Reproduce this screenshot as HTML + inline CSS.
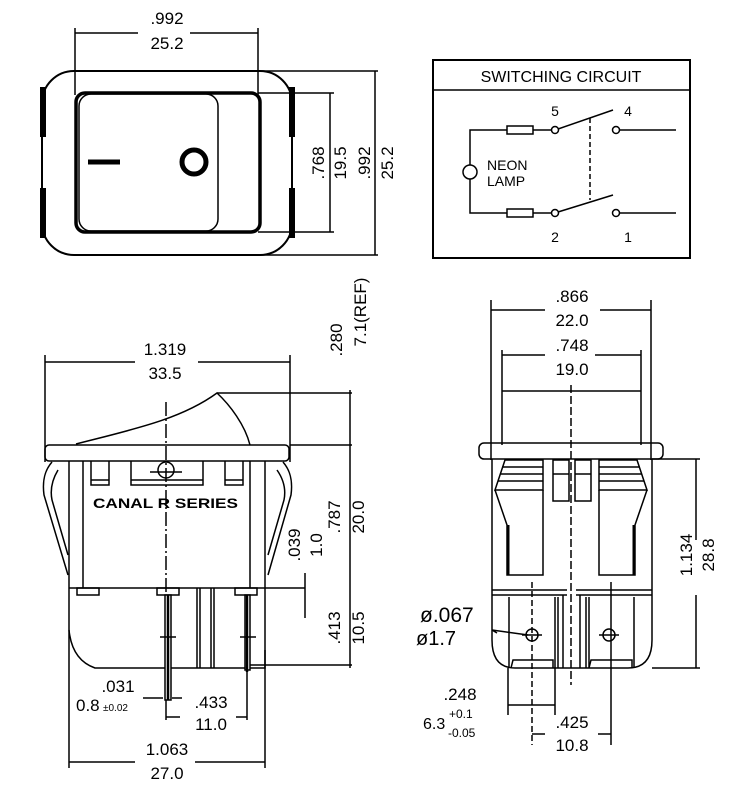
<!DOCTYPE html>
<html><head><meta charset="utf-8"><style>
html,body{margin:0;padding:0;background:#fff;}
svg{display:block;}
text{font-family:"Liberation Sans",sans-serif;fill:#000;}
</style></head><body>
<svg width="742" height="800" viewBox="0 0 742 800" xmlns="http://www.w3.org/2000/svg">
<g stroke="#000" fill="none" stroke-width="1.5">
<line x1="75" y1="28" x2="75" y2="95"/><line x1="258" y1="28" x2="258" y2="95"/>
<line x1="75" y1="33" x2="138" y2="33"/><line x1="190" y1="33" x2="258" y2="33"/>
<rect x="42" y="71" width="250" height="184" rx="32" stroke-width="2"/>
<rect x="40" y="87" width="6" height="50" fill="#000" stroke="none"/>
<rect x="40" y="188" width="6" height="50" fill="#000" stroke="none"/>
<rect x="289" y="87" width="6" height="50" fill="#000" stroke="none"/>
<rect x="289" y="188" width="6" height="50" fill="#000" stroke="none"/>
<rect x="76" y="93" width="184" height="139" rx="9" stroke-width="3.5"/>
<rect x="79" y="94" width="139" height="137" rx="12" stroke-width="1.5"/>
<line x1="88" y1="162" x2="120" y2="162" stroke-width="5"/>
<circle cx="194" cy="162" r="12" stroke-width="5"/>
<line x1="258" y1="93" x2="334" y2="93"/><line x1="258" y1="232" x2="334" y2="232"/>
<line x1="330" y1="93" x2="330" y2="232"/>
<line x1="258" y1="71" x2="378" y2="71"/><line x1="258" y1="255" x2="378" y2="255"/>
<line x1="375" y1="71" x2="375" y2="255"/>

<rect x="433" y="60" width="257" height="198" stroke-width="2"/>
<line x1="433" y1="90" x2="690" y2="90"/>
<polyline points="507,130 470,130 470,213 507,213"/>
<circle cx="470" cy="172" r="7" fill="#fff"/>
<rect x="507" y="126" width="26" height="8"/><rect x="507" y="209" width="26" height="8"/>
<line x1="533" y1="130" x2="551" y2="130"/><line x1="533" y1="213" x2="551" y2="213"/>
<circle cx="555" cy="130" r="3.5"/><circle cx="555" cy="213" r="3.5"/>
<circle cx="616" cy="130" r="3.5"/><circle cx="616" cy="213" r="3.5"/>
<line x1="558" y1="129" x2="613" y2="110"/><line x1="558" y1="212" x2="613" y2="195"/>
<line x1="620" y1="130" x2="676" y2="130"/><line x1="620" y1="213" x2="676" y2="213"/>
<line x1="590" y1="118" x2="590" y2="200" stroke-dasharray="5,3"/>

<line x1="45" y1="355" x2="45" y2="462"/><line x1="290" y1="355" x2="290" y2="462"/>
<line x1="45" y1="362" x2="135" y2="362"/><line x1="198" y1="362" x2="290" y2="362"/>
<path d="M76,444 C130,430 180,420 217,393 C230,405 245,425 250,445"/>
<line x1="217" y1="393" x2="352" y2="393"/>
<line x1="290" y1="445" x2="352" y2="445"/>
<rect x="45" y="445" width="244" height="16" rx="4"/>
<line x1="69" y1="461" x2="69" y2="668"/><line x1="83" y1="461" x2="83" y2="588"/>
<line x1="250" y1="461" x2="250" y2="588"/><line x1="265" y1="461" x2="265" y2="668"/>
<path d="M52,462 C45,470 42,480 44,495 L68,575"/>
<path d="M58,470 C52,480 50,490 52,500 L68,555"/>
<path d="M283,462 C290,470 293,480 291,495 L268,575"/>
<path d="M277,470 C284,480 286,490 284,500 L268,555"/>
<polyline points="91,461 91,485 109,485 109,461"/><line x1="91" y1="480" x2="109" y2="480"/>
<polyline points="131,461 131,485 203,485 203,461"/><line x1="131" y1="480" x2="203" y2="480"/>
<polyline points="225,461 225,485 243,485 243,461"/><line x1="225" y1="480" x2="243" y2="480"/>
<circle cx="166" cy="470" r="8"/><line x1="150" y1="472" x2="182" y2="472"/>
<line x1="166" y1="402" x2="166" y2="668" stroke-dasharray="14,3,2,3"/>
<line x1="69" y1="588" x2="305" y2="588"/>
<path d="M69,630 Q72,660 95,668 L265,668 L265,650"/>
<rect x="77" y="588" width="22" height="7"/><rect x="157" y="588" width="22" height="7"/><rect x="235" y="588" width="22" height="7"/>
<rect x="165" y="595" width="6" height="105" fill="#fff"/><line x1="168" y1="595" x2="168" y2="700" stroke-width="2.5"/>
<rect x="245" y="595" width="5" height="75" fill="#fff"/><line x1="247" y1="595" x2="247" y2="672" stroke-width="2.5"/>
<line x1="160" y1="637" x2="176" y2="637"/><line x1="240" y1="637" x2="256" y2="637"/>
<line x1="197" y1="588" x2="197" y2="668"/><line x1="200" y1="588" x2="200" y2="668"/>
<line x1="211" y1="588" x2="211" y2="668"/><line x1="214" y1="588" x2="214" y2="668"/>
<line x1="250" y1="665" x2="352" y2="665"/>
<line x1="350" y1="390" x2="350" y2="668"/>
<line x1="305" y1="573" x2="305" y2="618"/>
<line x1="143" y1="698" x2="163" y2="698"/><line x1="172" y1="698" x2="182" y2="698"/>
<line x1="166" y1="700" x2="166" y2="720"/>
<line x1="247" y1="672" x2="247" y2="720"/>
<line x1="166" y1="717" x2="180" y2="717"/><line x1="236" y1="717" x2="247" y2="717"/>
<line x1="69" y1="668" x2="69" y2="768"/><line x1="265" y1="668" x2="265" y2="768"/>
<line x1="69" y1="762" x2="135" y2="762"/><line x1="195" y1="762" x2="265" y2="762"/>

<line x1="491" y1="300" x2="491" y2="460"/><line x1="651" y1="300" x2="651" y2="460"/>
<line x1="491" y1="310" x2="545" y2="310"/><line x1="600" y1="310" x2="651" y2="310"/>
<line x1="502" y1="350" x2="502" y2="445"/><line x1="641" y1="350" x2="641" y2="445"/>
<line x1="502" y1="355" x2="545" y2="355"/><line x1="595" y1="355" x2="641" y2="355"/>
<line x1="502" y1="391" x2="641" y2="391"/>
<rect x="479" y="443" width="184" height="16" rx="5"/>
<path d="M492,459 L492,640 Q492,668 515,668 L628,668 Q652,668 652,640 L652,459"/>
<line x1="571" y1="385" x2="571" y2="685" stroke-dasharray="8,3"/>
<path d="M505,460 L495,490 L543,490 L543,460 Z"/>
<line x1="502" y1="467" x2="543" y2="467"/><line x1="500" y1="474" x2="543" y2="474"/><line x1="498" y1="481" x2="543" y2="481"/>
<path d="M495,490 L507,525 L507,575 L543,575 L543,490"/>
<line x1="508" y1="525" x2="508" y2="575" stroke-width="3"/>
<path d="M637,460 L647,490 L599,490 L599,460 Z"/>
<line x1="599" y1="467" x2="640" y2="467"/><line x1="599" y1="474" x2="642" y2="474"/><line x1="599" y1="481" x2="644" y2="481"/>
<path d="M647,490 L635,525 L635,575 L599,575 L599,490"/>
<line x1="634" y1="525" x2="634" y2="575" stroke-width="3"/>
<rect x="553" y="460" width="16" height="41"/><line x1="553" y1="474" x2="569" y2="474"/>
<rect x="575" y="460" width="16" height="41"/><line x1="575" y1="474" x2="591" y2="474"/>
<line x1="492" y1="590" x2="567" y2="590"/><line x1="576" y1="590" x2="652" y2="590"/>
<line x1="492" y1="595" x2="567" y2="595"/><line x1="576" y1="595" x2="652" y2="595"/>
<path d="M509,597 L509,668 M555,597 L555,668 M558,597 L558,668"/>
<path d="M586,597 L586,668 M589,597 L589,668 M634,597 L634,668"/>
<path d="M511,668 L513,660 L553,660 L553,668"/><path d="M589,668 L591,660 L632,660 L632,668"/>
<line x1="563" y1="595" x2="563" y2="668"/><line x1="580" y1="595" x2="580" y2="668"/>
<circle cx="532" cy="635" r="6"/><line x1="522" y1="635" x2="542" y2="635"/>
<circle cx="609" cy="635" r="6"/><line x1="599" y1="635" x2="619" y2="635"/>
<line x1="532" y1="582" x2="532" y2="745" stroke-dasharray="6,3"/>
<line x1="611" y1="582" x2="611" y2="745"/>
<line x1="508" y1="668" x2="508" y2="715"/><line x1="555" y1="668" x2="555" y2="715"/>
<line x1="508" y1="705" x2="555" y2="705"/>
<line x1="532" y1="734" x2="545" y2="734"/><line x1="598" y1="734" x2="611" y2="734"/>
<polyline points="497,633 492,630 528,635"/>
<line x1="652" y1="459" x2="700" y2="459"/><line x1="652" y1="668" x2="700" y2="668"/>
<line x1="696" y1="459" x2="696" y2="540"/><line x1="696" y1="595" x2="696" y2="668"/>
</g>

<g font-size="17" text-anchor="middle">
<text x="167" y="24">.992</text><text x="167" y="49">25.2</text>
<text transform="translate(324,163) rotate(-90)">.768</text>
<text transform="translate(346,163) rotate(-90)">19.5</text>
<text transform="translate(370,163) rotate(-90)">.992</text>
<text transform="translate(393,163) rotate(-90)">25.2</text>
<text x="165" y="355">1.319</text><text x="165" y="379">33.5</text>
<text transform="translate(342,340) rotate(-90)">.280</text>
<text transform="translate(366,312) rotate(-90)">7.1(REF)</text>
<text transform="translate(340,517) rotate(-90)">.787</text>
<text transform="translate(364,517) rotate(-90)">20.0</text>
<text transform="translate(300,545) rotate(-90)">.039</text>
<text transform="translate(322,545) rotate(-90)">1.0</text>
<text transform="translate(340,628) rotate(-90)">.413</text>
<text transform="translate(364,628) rotate(-90)">10.5</text>
<text x="118" y="692">.031</text>
<text x="211" y="708">.433</text><text x="211" y="730">11.0</text>
<text x="167" y="755">1.063</text><text x="167" y="779">27.0</text>
<text x="572" y="302">.866</text><text x="572" y="326">22.0</text>
<text x="572" y="351">.748</text><text x="572" y="375">19.0</text>
<text transform="translate(692,555) rotate(-90)">1.134</text>
<text transform="translate(714,555) rotate(-90)">28.8</text>
<text x="460" y="700">.248</text>
<text x="572" y="728">.425</text><text x="572" y="751">10.8</text>
</g>
<text x="76" y="711" font-size="17">0.8</text><text x="103" y="711" font-size="10">±0.02</text>
<text x="420" y="622" font-size="21">ø.067</text>
<text x="416" y="645" font-size="20">ø1.7</text>
<text x="423" y="729" font-size="16">6.3</text>
<text x="449" y="718" font-size="12">+0.1</text>
<text x="448" y="737" font-size="12">-0.05</text>
<text x="93" y="508" font-size="14" font-family="Liberation Serif,serif" font-weight="bold" fill="#333" textLength="145" lengthAdjust="spacingAndGlyphs">CANAL R SERIES</text>
<text x="561" y="82" font-size="16" text-anchor="middle">SWITCHING CIRCUIT</text>
<g font-size="14" text-anchor="middle">
<text x="555" y="116">5</text><text x="628" y="116">4</text>
<text x="555" y="242">2</text><text x="628" y="242">1</text>
</g>
<text x="487" y="170" font-size="14">NEON</text>
<text x="487" y="186" font-size="14">LAMP</text>
</svg>
</body></html>
